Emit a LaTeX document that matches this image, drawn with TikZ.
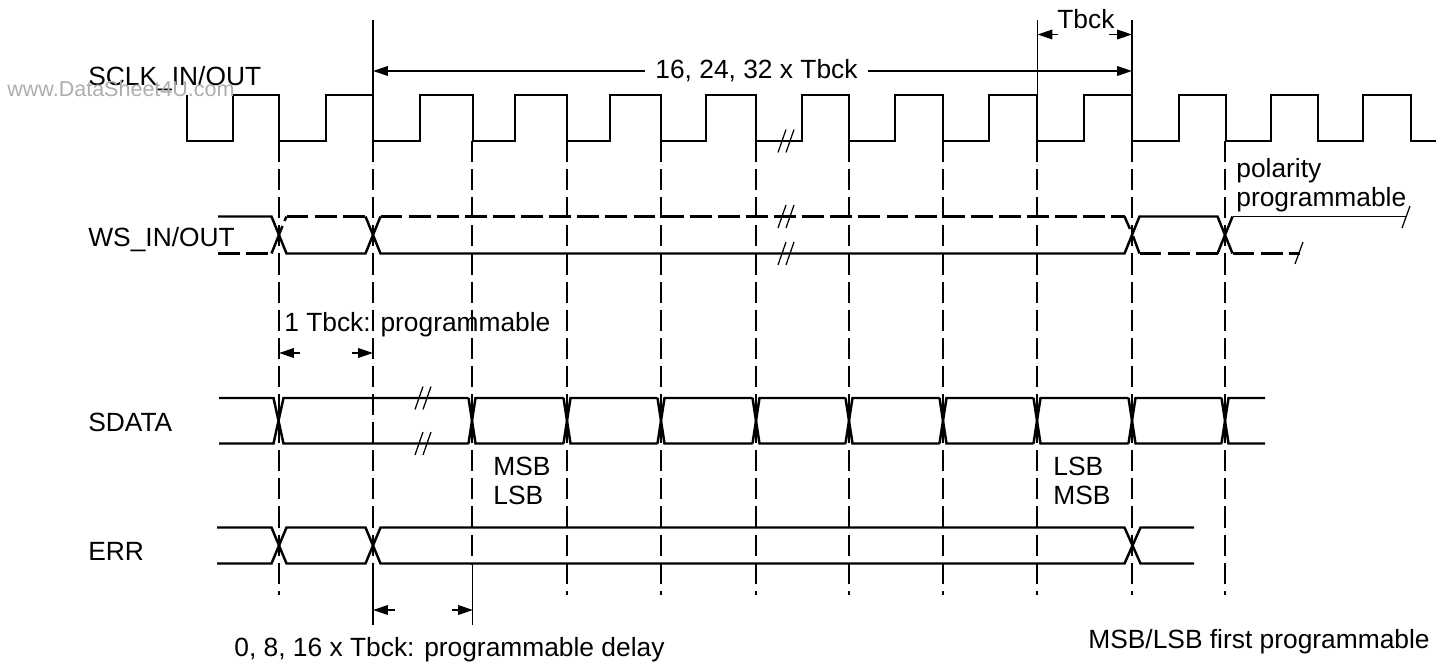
\documentclass[tikz,border=0pt]{standalone}
\usepackage{fontspec}
\setmainfont{Liberation Sans}
\usetikzlibrary{arrows.meta}

\begin{document}
\begin{tikzpicture}[x=0.02cm, y=-0.02cm]
\tikzset{sig/.style = {black, line width=1.4pt, line join=miter}}
\tikzset{sigdash/.style = {sig, dash pattern=on 12.5pt off 3.5pt}}
\tikzset{guide/.style = {black, line width=0.7pt, dash pattern=on 12pt off 4pt}}
\tikzset{thin line/.style = {black, line width=0.7pt}}
\tikzset{dim/.style = {thin line, -{Triangle[length=8.5pt, width=5.5pt]}}}
\tikzset{lbl/.style = {anchor=base west, inner sep=0pt, font=\fontsize{15}{18}\selectfont}}
\useasboundingbox (0,0) rectangle (1450,662);

% Define the clock
\draw[sig] (187,95) |- (233,141) |- (279,95) |- (326,141) |- (373,95) |- (420,141)
  |- (473,95) |- (515,141) |- (567,95) |- (610,141) |- (661,95) |- (706,141)
  |- (756,95) |- (802,141) |- (849,95) |- (895,141) |- (943,95) |- (989,141)
  |- (1037,95) |- (1084,141) |- (1132,95) |- (1179,141) |- (1226,95) |- (1271,141)
  |- (1318,95) |- (1363,141) |- (1411,95) |- (1436,141);

% Draw the guide lines
\foreach \x in {279,567,661,756,849,943,1037,1132,1225}
  \draw[guide] (\x,141) -- (\x,595);
\foreach \x in {373,472}
  \draw[guide] (\x,141) -- (\x,565);
\draw[thin line] (373,20) -- (373,141);
\draw[thin line] (1037.5,20) -- (1037.5,141);
\draw[thin line] (1132,20) -- (1132,141);
\draw[thin line] (373,565) -- (373,625);
\draw[thin line] (472.5,565) -- (472.5,625);

% WS rails and crossings
\draw[sig] (218,216.5) -- (271.5,216.5) -- (286.5,253.5) -- (365.5,253.5) -- (380.5,216.5);
\draw[sigdash] (218,253.5) -- (269,253.5);
\draw[sig] (271.5,253.5) -- (282.5,226);
\draw[sig] (284.5,221) -- (286.5,216.5);
\draw[sigdash] (286.5,216.5) -- (365.5,216.5);
\draw[sig] (365.5,216.5) -- (380.5,253.5) -- (1124.5,253.5) -- (1139.5,216.5) -- (1217.5,216.5)
  -- (1232.5,253.5);
\draw[sigdash] (380.5,216.5) -- (1124.5,216.5);
\draw[sig] (1124.5,216.5) -- (1130,229);
\draw[sig] (1133,236) -- (1139.5,253.5);
\draw[sigdash] (1139.5,253.5) -- (1217.5,253.5);
\draw[sig] (1217.5,253.5) -- (1232.5,216.5);
\draw[sig, line width=1.1pt] (1232.5,216.5) -- (1407,216.5);
\draw[sigdash] (1232.5,253.5) -- (1300,253.5);
\draw[thin line] (1402,228) -- (1410,206);
\draw[thin line] (1295,264) -- (1303,242);

% SDATA, one cell after the other
\draw[sig] (219,398) -- (273.5,398) -- (283.5,443.5) -- (468.5,443.5);
\draw[sig] (219,443.5) -- (273.5,443.5) -- (283.5,398) -- (468.5,398);
\foreach \a/\b in {472/567,567/661,661/756,756/849,849/943,943/1037,1037/1132,1132/1225}
{
  \draw[sig] (\a-3.5,398) -- (\a+3.5,443.5) -- (\b-3.5,443.5);
  \draw[sig] (\a-3.5,443.5) -- (\a+3.5,398) -- (\b-3.5,398);
}
\draw[sig] (1221.5,398) -- (1228.5,443.5) -- (1265,443.5);
\draw[sig] (1221.5,443.5) -- (1228.5,398) -- (1265,398);

% ERR
\draw[sig] (217,527.5) -- (271.5,527.5) -- (286.5,563.5) -- (365.5,563.5) -- (380.5,527.5)
  -- (1124.5,527.5) -- (1140.5,563.5) -- (1194,563.5);
\draw[sig] (217,563.5) -- (271.5,563.5) -- (286.5,527.5) -- (365.5,527.5) -- (380.5,563.5)
  -- (1124.5,563.5) -- (1140.5,527.5) -- (1194,527.5);

% Break marks
\foreach \x/\y in {778/141,778/216.5,778/253.5,415/398,415/443.5}
{
  \draw[thin line] (\x,\y+11.5) -- (\x+8,\y-11.5);
  \draw[thin line] (\x+8,\y+11.5) -- (\x+16,\y-11.5);
}

% Labels
\node[lbl] (sclk) at (88,86) {SCLK\_IN/OUT};
\node[lbl] (ws) at (88,247) {WS\_IN/OUT};
\node[lbl] (sdata) at (88,431) {SDATA};
\node[lbl] (err) at (88,560) {ERR};
\node[lbl] (tbck) at (1057,29) {Tbck};
\node[lbl] (polarity) at (1236,178) {polarity};
\node[lbl] (prog) at (1236,207) {programmable};
\node[lbl] (onetbck) at (284,331) {1 Tbck: programmable};
\node[lbl] (msba) at (493,475) {MSB};
\node[lbl] (lsba) at (493,504) {LSB};
\node[lbl] (lsbb) at (1053,475) {LSB};
\node[lbl] (msbb) at (1053,504) {MSB};
\node[lbl] (delay) at (234,656) {0, 8, 16 x Tbck: programmable delay};
\node[lbl] (first) at (1088,648) {MSB/LSB first programmable};
\node[anchor=base west, inner sep=0pt, text=black!32, font=\fontsize{12.25}{14}\selectfont] (mark) at (7,97) {www.DataSheet4U.com};

% Dimension arrows
\node[font=\fontsize{15}{18}\selectfont, inner ysep=0pt, inner xsep=5.7pt] (len) at (756.5,71) {16, 24, 32 x Tbck};
\coordinate (lenL) at (373,71);
\coordinate (lenR) at (1132,71);
\draw[dim] (len) -- (lenL);
\draw[dim] (len) -- (lenR);
\coordinate (tbA) at (1037.5,34.5);
\coordinate (tbB) at (1058,34.5);
\coordinate (tbC) at (1109,34.5);
\coordinate (tbD) at (1132,34.5);
\draw[dim] (tbB) -- (tbA);
\draw[dim] (tbC) -- (tbD);
\coordinate (oneA) at (279,353);
\coordinate (oneB) at (300,353);
\coordinate (oneC) at (352,353);
\coordinate (oneD) at (373,353);
\draw[dim] (oneB) -- (oneA);
\draw[dim] (oneC) -- (oneD);
\coordinate (delA) at (373,610);
\coordinate (delB) at (395,610);
\coordinate (delC) at (452,610);
\coordinate (delD) at (473,610);
\draw[dim] (delB) -- (delA);
\draw[dim] (delC) -- (delD);
\end{tikzpicture}
\end{document}
